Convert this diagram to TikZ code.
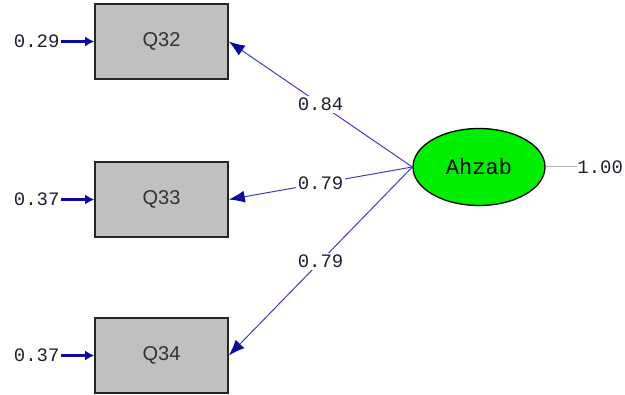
\documentclass[tikz,border=0pt]{standalone}
\usepackage{fontspec}
\setmainfont{Liberation Sans}
\newfontfamily\numfont{Liberation Mono}
\usetikzlibrary{arrows.meta,shapes.geometric}
\definecolor{pathblue}{RGB}{60,60,200}
\definecolor{headblue}{RGB}{10,10,160}
\definecolor{boxgray}{RGB}{192,192,192}
\definecolor{latgreen}{RGB}{0,238,0}
\definecolor{numcol}{RGB}{30,30,50}
\tikzset{
  obsbox/.style={draw=black!85, line width=1.6pt, fill=boxgray, minimum width=133pt, minimum height=75pt, inner sep=0pt, font=\fontsize{20}{20}\selectfont, text=black!80},
  latent/.style={ellipse, draw=black, line width=1.3pt, fill=latgreen, minimum width=132pt, minimum height=77pt, inner sep=0pt, font=\numfont\fontsize{22}{22}\selectfont},
  loading/.style={draw=pathblue, line width=1pt, -{Latex[length=16pt,width=12pt,color=headblue]}},
  errarrow/.style={draw=headblue, line width=2.4pt, -{Latex[length=9pt,width=10pt]}},
  numlab/.style={font=\numfont\fontsize{19}{19}\selectfont, text=numcol, inner sep=1.5pt},
  midlab/.style={numlab, fill=white, inner sep=2pt},
}
\begin{document}
\begin{tikzpicture}[x=1pt,y=-1pt]
\useasboundingbox (0,0) rectangle (625,395);
\node[obsbox] (q32) at (161.5,41.5) {Q32};
\node[obsbox] (q33) at (161.5,199.5) {Q33};
\node[obsbox] (q34) at (161.5,355.5) {Q34};
\node[latent] (ahzab) at (479,167) {Ahzab};
% error terms
\coordinate (e32) at ([xshift=-33pt]q32.west);
\coordinate (e33) at ([xshift=-33pt]q33.west);
\coordinate (e34) at ([xshift=-33pt]q34.west);
\node[numlab, anchor=east] (t32) at (e32) {0.29};
\node[numlab, anchor=east] (t33) at (e33) {0.37};
\node[numlab, anchor=east] (t34) at (e34) {0.37};
\draw[errarrow] (e32) -- (q32.west);
\draw[errarrow] (e33) -- (q33.west);
\draw[errarrow] (e34) -- (q34.west);
% loadings
\draw[loading] (ahzab.west) -- node[midlab] {0.84} (q32.east);
\draw[loading] (ahzab.west) -- node[midlab] {0.79} (q33.east);
\draw[loading] (ahzab.west) -- node[midlab] {0.79} (q34.east);
% latent variance
\coordinate (v) at ([xshift=31pt]ahzab.east);
\node[numlab, anchor=west, inner sep=0.5pt] (tv) at (v) {1.00};
\draw[black!30, line width=1pt] (ahzab.east) -- (v);
\end{tikzpicture}
\end{document}
